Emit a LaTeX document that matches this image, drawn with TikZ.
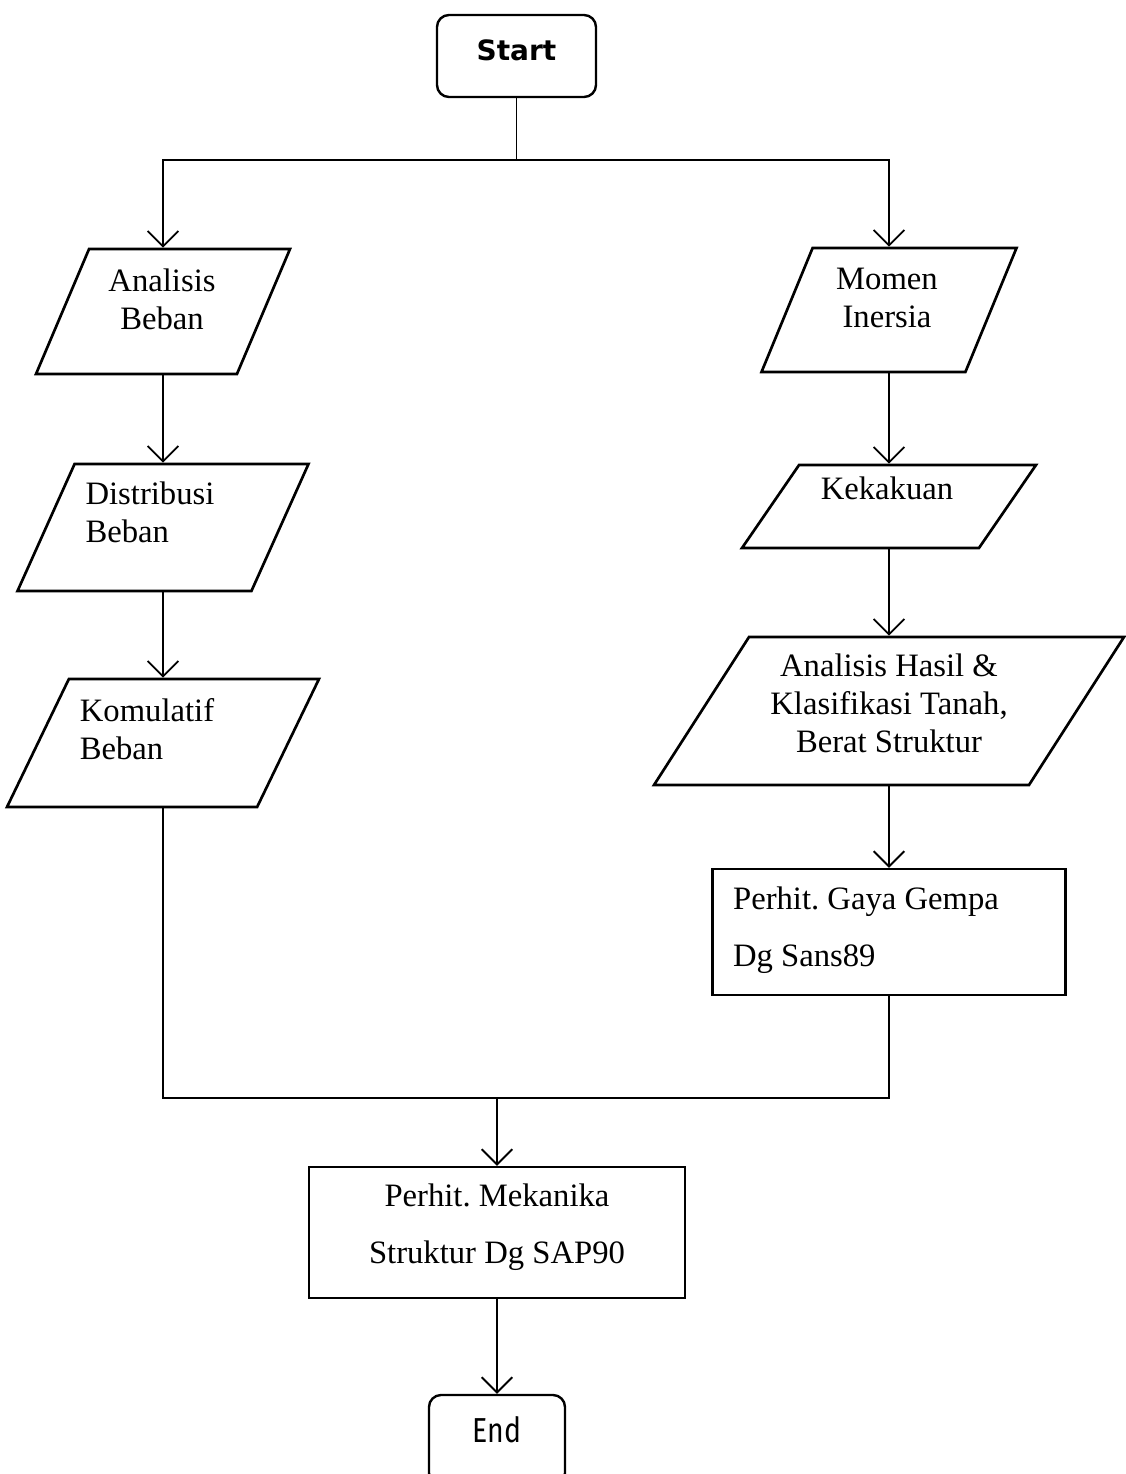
\documentclass[tikz,border=0pt]{standalone}
\usepackage{fontspec}
\setmainfont{Liberation Serif}
\newfontfamily\startfont{DejaVu Sans}
\newfontfamily\endfont[FakeStretch=0.82]{Fira Sans}
\usetikzlibrary{shapes.geometric,arrows.meta}
\frenchspacing

\tikzset{every picture/.style={line width=1.4pt},
  ioshape/.style={draw,line width=2pt,trapezium,trapezium stretches body,inner xsep=0pt},
  procbox/.style={draw,line width=1.8pt,rectangle,inner sep=0pt},
  termbox/.style={draw,line width=1.8pt,rectangle,rounded corners=9pt,inner sep=0pt},
  flowline/.style={-{Straight Barb[length=11.5pt,width=23pt]}},
  txt/.style={font=\fontsize{24.5}{28.5}\selectfont,align=center,inner sep=0pt},
  boxtxt/.style={font=\fontsize{24.5}{43}\selectfont,inner sep=0pt}
}

\begin{document}
\begin{tikzpicture}[x=0.75pt,y=0.75pt,yscale=-1]
\useasboundingbox (0,0) rectangle (1126,1474);

\node [termbox,minimum width=119.25pt,minimum height=61.5pt,label={[shift={(0,6)}]center:{\startfont\bfseries\fontsize{21}{25}\selectfont Start}}] (start) at (516.5,56) {};

\node [ioshape,trapezium left angle=67,trapezium right angle=113,minimum width=190.5pt,inner ysep=46.875pt,label={[txt,shift={(-1,12)}]center:Analisis\\Beban}] (analisis) at (163,311.5) {};
\node [ioshape,trapezium left angle=65.8,trapezium right angle=114.2,minimum width=218.25pt,inner ysep=47.625pt,label={[txt,align=left,shift={(-13,15)}]center:Distribusi\\Beban}] (distribusi) at (163,527.5) {};
\node [ioshape,trapezium left angle=64.2,trapezium right angle=115.8,minimum width=234pt,inner ysep=48pt,label={[txt,align=left,shift={(-16,14)}]center:Komulatif\\Beban}] (komulatif) at (163,743) {};

\node [ioshape,trapezium left angle=67.6,trapezium right angle=112.4,minimum width=191.25pt,inner ysep=46.5pt,label={[txt,shift={(-2,12)}]center:Momen\\Inersia}] (momen) at (889,310) {};
\node [ioshape,trapezium left angle=55.5,trapezium right angle=124.5,minimum width=220.5pt,inner ysep=31.125pt,label={[txt,shift={(-2,18)}]center:Kekakuan}] (kekakuan) at (889,506.5) {};
\node [ioshape,trapezium left angle=57.3,trapezium right angle=122.7,minimum width=352.5pt,inner ysep=55.5pt,label={[txt,shift={(0,8)}]center:Analisis Hasil \&\\Klasifikasi Tanah,\\Berat Struktur}] (hasil) at (889,711) {};

\node [procbox,minimum width=264.75pt,minimum height=94.5pt,label={[boxtxt,align=left,shift={(-23,2)}]center:Perhit. Gaya Gempa\\Dg Sans89}] (gaya) at (889,932) {};
\node [procbox,minimum width=282pt,minimum height=98.25pt,label={[boxtxt,align=center,shift={(0,5)}]center:Perhit. Mekanika\\Struktur Dg SAP90}] (mekanika) at (497,1232.5) {};

\node [termbox,minimum width=102pt,minimum height=67.5pt,label={[shift={(0,10)}]center:{\endfont\fontsize{26}{30}\selectfont End}}] (end) at (497,1440) {};

\coordinate (split) at (516.5,160);
\coordinate (merge) at (497,1098);

\draw (start.south) -- (split);
\draw [flowline] (split) -| (analisis.north);
\draw [flowline] (split) -| (momen.north);
\draw [flowline] (analisis.south) -- (distribusi.north);
\draw [flowline] (distribusi.south) -- (komulatif.north);
\draw [flowline] (momen.south) -- (kekakuan.north);
\draw [flowline] (kekakuan.south) -- (hasil.north);
\draw [flowline] (hasil.south) -- (gaya.north);
\draw (komulatif.south) |- (merge);
\draw (gaya.south) |- (merge);
\draw [flowline] (merge) -- (mekanika.north);
\draw [flowline] (mekanika.south) -- (end.north);

\end{tikzpicture}
\end{document}
